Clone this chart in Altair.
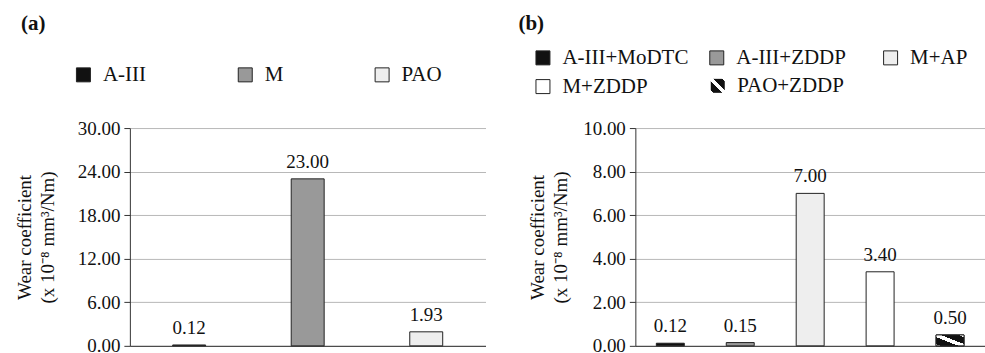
import altair as alt
import pandas as pd

# ---------------- data ----------------
cats_a = ["A-III", "M", "PAO"]
vals_a = [0.12, 23.00, 1.93]
fills_a = ["#111111", "#999999", "#eeeeee"]
ticks_a = [0, 6, 12, 18, 24, 30]

cats_b = ["A-III+MoDTC", "A-III+ZDDP", "M+AP", "M+ZDDP", "PAO+ZDDP"]
vals_b = [0.12, 0.15, 7.00, 3.40, 0.50]
fills_b = ["#111111", "#999999", "#eeeeee", "#ffffff", "#111111"]
ticks_b = [0, 2, 4, 6, 8, 10]

striped = "PAO+ZDDP"

FONT = "Liberation Serif"
Y_TITLE = ["Wear coefficient", "(x 10\u207b\u2078 mm\u00b3/Nm)"]

stripes = {
    "gradient": "linear", "x1": 0, "y1": 1, "x2": 1, "y2": 0,
    "stops": [
        {"offset": 0.0, "color": "#ffffff"},
        {"offset": 0.08, "color": "#ffffff"},
        {"offset": 0.08, "color": "#111111"},
        {"offset": 0.40, "color": "#111111"},
        {"offset": 0.40, "color": "#ffffff"},
        {"offset": 0.58, "color": "#ffffff"},
        {"offset": 0.58, "color": "#111111"},
        {"offset": 0.90, "color": "#111111"},
        {"offset": 0.90, "color": "#ffffff"},
        {"offset": 1.0, "color": "#ffffff"},
    ],
}

legend_common = dict(orient="none", title=None, direction="horizontal", columns=3,
                     symbolType="square", symbolSize=196, symbolStrokeColor="#222222",
                     symbolStrokeWidth=1, labelFont=FONT, labelFontSize=21, labelColor="#111111",
                     labelOffset=9, labelLimit=300)


def panel(cats, vals, fills, ticks, ymax, field, width, bar_size, legend, title_text, title_dx,
          title_offset, ytitle_pad, striped_legend=None):
    df = pd.DataFrame({field: cats, "value": vals})
    base = alt.Chart(df).encode(
        x=alt.X(f"{field}:N", sort=cats,
                scale=alt.Scale(paddingInner=0, paddingOuter=0),
                axis=alt.Axis(labels=False, ticks=False, title=None, grid=False)),
        y=alt.Y("value:Q", scale=alt.Scale(domain=[0, ymax], nice=False),
                axis=alt.Axis(values=ticks, format=".2f", title=Y_TITLE, grid=True,
                              titlePadding=ytitle_pad)),
    )
    bars = base.mark_bar(size=bar_size, stroke="#222222", strokeWidth=1).encode(
        color=alt.Color(f"{field}:N", sort=cats,
                        scale=alt.Scale(domain=cats, range=fills), legend=legend)
    )
    layers = [bars]
    if striped in cats:
        layers.append(
            base.transform_filter(alt.datum[field] == striped).mark_bar(
                size=bar_size, fill=stripes, stroke="#222222", strokeWidth=1).encode(
                strokeDash=alt.StrokeDash(f"{field}:N",
                                          scale=alt.Scale(domain=[striped], range=[[1, 0]]),
                                          legend=striped_legend)
            )
        )
    labels = base.mark_text(baseline="bottom", dy=-7, font=FONT, fontSize=19, color="#111111").encode(
        text=alt.Text("value:Q", format=".2f")
    )
    layers.append(labels)
    return alt.layer(*layers).properties(
        width=width, height=218,
        title=alt.TitleParams(title_text, anchor="start", frame="group", dx=title_dx,
                              font=FONT, fontSize=21, fontWeight="bold", color="#111111",
                              offset=title_offset),
    )


legend_a = alt.Legend(legendX=-57, legendY=-64, columnPadding=88, gridAlign="each", **legend_common)
legend_b = alt.Legend(legendX=-103, legendY=-81, columnPadding=17, rowPadding=7, gridAlign="all",
                      values=[c for c in cats_b if c != striped], **legend_common)
legend_b2 = alt.Legend(legendX=72, legendY=-53, **legend_common)

pa = panel(cats_a, vals_a, fills_a, ticks_a, 30, "oil_a", 356, 33, legend_a, "(a)", -109, 30, 20)
pb = panel(cats_b, vals_b, fills_b, ticks_b, 10, "oil_b", 350, 28, legend_b, "(b)", -117, 13, 12,
           legend_b2)

chart = alt.hconcat(pa, pb, spacing=33).resolve_scale(
    color="independent", x="independent", y="independent", strokeDash="independent"
).resolve_legend(color="independent", strokeDash="independent").properties(
    padding={"left": 15, "top": 13, "right": 0, "bottom": 5}, background="white"
).configure_view(stroke=None).configure_axis(
    labelFont=FONT, labelFontSize=19, labelColor="#111111",
    titleFont=FONT, titleFontSize=19, titleFontWeight="normal", titleColor="#111111",
    titleLineHeight=23,
    domainColor="#333333", tickColor="#333333", tickSize=6,
    gridColor="#b8b8b8", labelPadding=4,
)

chart.save("out.html", embed_options={"renderer": "svg", "actions": False})
